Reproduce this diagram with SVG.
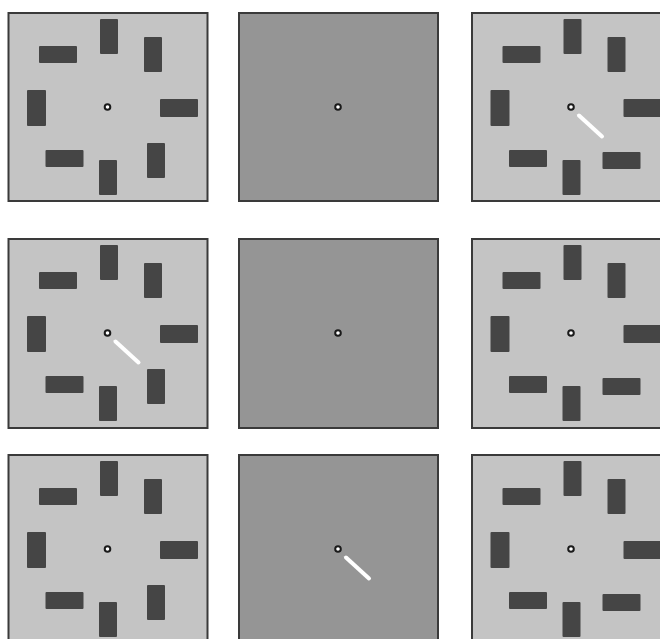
<svg xmlns="http://www.w3.org/2000/svg" xmlns:xlink="http://www.w3.org/1999/xlink" width="660" height="639" viewBox="0 0 660 639">
<style>
.light{fill:#c4c4c4;stroke:#3a3a3a;stroke-width:2}
.dark{fill:#959595;stroke:#3a3a3a;stroke-width:2}
.blk{fill:#454545}
.fix{fill:#ffffff;stroke:#1a1a1a;stroke-width:2}
.cue{stroke:#ffffff;stroke-width:4;stroke-linecap:round}
</style>
<defs>
<g id="common">
<rect class="blk" x="-68.5" y="-61" width="38" height="17" rx="1"/>
<rect class="blk" x="-7.5" y="-88" width="18" height="35" rx="1"/>
<rect class="blk" x="36.5" y="-70" width="18" height="35" rx="1"/>
<rect class="blk" x="-80.5" y="-17" width="19" height="36" rx="1"/>
<rect class="blk" x="52.5" y="-8" width="38" height="18" rx="1"/>
<rect class="blk" x="-62" y="43" width="38" height="17" rx="1"/>
<rect class="blk" x="-8.5" y="53" width="18" height="35" rx="1"/>
</g>
<rect id="vH" class="blk" x="39.5" y="36" width="18" height="35" rx="1"/>
<rect id="hH" class="blk" x="31.5" y="45" width="38" height="17" rx="1"/>
<circle id="fx" class="fix" cx="0" cy="0" r="2.8"/>
<line id="cueLine" class="cue" x1="8" y1="8.5" x2="31" y2="29.5"/>
</defs>

<g id="panel-r1c1" transform="translate(107.5,107)">
<rect class="light" x="-99" y="-94" width="199" height="188"/>
<use xlink:href="#common"/><use xlink:href="#vH"/><use xlink:href="#fx"/>
</g>
<g id="panel-r1c2" transform="translate(338,107)">
<rect class="dark" x="-99" y="-94" width="199" height="188"/>
<use xlink:href="#fx"/>
</g>
<g id="panel-r1c3" transform="translate(571,107)">
<rect class="light" x="-99" y="-94" width="199" height="188"/>
<use xlink:href="#common"/><use xlink:href="#hH"/><use xlink:href="#cueLine"/><use xlink:href="#fx"/>
</g>

<g id="panel-r2c1" transform="translate(107.5,333)">
<rect class="light" x="-99" y="-94" width="199" height="189"/>
<use xlink:href="#common"/><use xlink:href="#vH"/><use xlink:href="#cueLine"/><use xlink:href="#fx"/>
</g>
<g id="panel-r2c2" transform="translate(338,333)">
<rect class="dark" x="-99" y="-94" width="199" height="189"/>
<use xlink:href="#fx"/>
</g>
<g id="panel-r2c3" transform="translate(571,333)">
<rect class="light" x="-99" y="-94" width="199" height="189"/>
<use xlink:href="#common"/><use xlink:href="#hH"/><use xlink:href="#fx"/>
</g>

<g id="panel-r3c1" transform="translate(107.5,549)">
<rect class="light" x="-99" y="-94" width="199" height="188"/>
<use xlink:href="#common"/><use xlink:href="#vH"/><use xlink:href="#fx"/>
</g>
<g id="panel-r3c2" transform="translate(338,549)">
<rect class="dark" x="-99" y="-94" width="199" height="188"/>
<use xlink:href="#cueLine"/><use xlink:href="#fx"/>
</g>
<g id="panel-r3c3" transform="translate(571,549)">
<rect class="light" x="-99" y="-94" width="199" height="188"/>
<use xlink:href="#common"/><use xlink:href="#hH"/><use xlink:href="#fx"/>
</g>
<g id="connectors"/>
</svg>
